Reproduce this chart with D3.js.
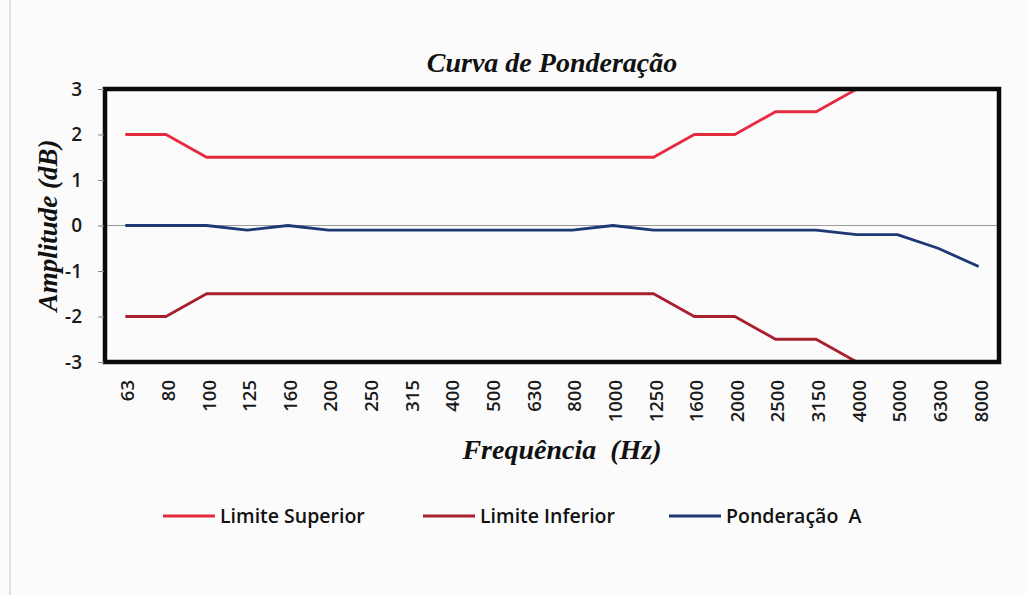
<!DOCTYPE html>
<html>
<head>
<meta charset="utf-8">
<script src="https://cdn.jsdelivr.net/npm/d3@7"></script>
<style>
  html, body { margin: 0; padding: 0; background: #fbfbfb; }
  svg { display: block; }
</style>
</head>
<body>
<svg id="chart" width="1027" height="595"></svg>
<script>
// Frequency bands (Hz) on the horizontal axis
const frequencies = ["63", "80", "100", "125", "160", "200", "250", "315", "400", "500", "630",
  "800", "1000", "1250", "1600", "2000", "2500", "3150", "4000", "5000", "6300", "8000"];
// Tolerance limits (dB), defined from 63 Hz up to 4000 Hz
const upperLimit = [2, 2, 1.5, 1.5, 1.5, 1.5, 1.5, 1.5, 1.5, 1.5, 1.5, 1.5, 1.5, 1.5, 2, 2, 2.5, 2.5, 3];
const lowerLimit = [-2, -2, -1.5, -1.5, -1.5, -1.5, -1.5, -1.5, -1.5, -1.5, -1.5, -1.5, -1.5, -1.5, -2, -2, -2.5, -2.5, -3];
// Measured A-weighting deviation (dB)
const weightingA = [0, 0, 0, -0.1, 0, -0.1, -0.1, -0.1, -0.1, -0.1, -0.1, -0.1, 0, -0.1, -0.1, -0.1, -0.1, -0.1, -0.2, -0.2, -0.5, -0.9];
const yTicks = [-3, -2, -1, 0, 1, 2, 3];

const seriesNames = ["Limite Superior", "Limite Inferior", "Ponderação  A"];
const seriesColors = ["#e62a3f", "#a8202d", "#1d3875"];
const series = [upperLimit, lowerLimit, weightingA].map((values, i) => ({
  name: seriesNames[i], color: seriesColors[i],
  points: values.map((v, j) => ({ f: frequencies[j], v }))
}));

const svg = d3.select("#chart");
const plot = { left: 105, right: 999, top: 89, bottom: 362 };

const x = d3.scalePoint().domain(frequencies).range([plot.left, plot.right]).padding(0.5);
const y = d3.scaleLinear().domain([-3, 3]).range([plot.bottom, plot.top]);

const serif = "'Liberation Serif', 'Times New Roman', serif";
const sans = "'Open Sans', sans-serif";

// faint page edge line
svg.append("line").attr("x1", 10).attr("x2", 10).attr("y1", 0).attr("y2", 595)
  .attr("stroke", "#c8c8c8").attr("stroke-width", 1);

// Title
svg.append("text")
  .attr("x", 552).attr("y", 72)
  .attr("text-anchor", "middle")
  .style("font-family", serif)
  .style("font-weight", "bold").style("font-style", "italic")
  .style("font-size", "28px").attr("fill", "#111")
  .text("Curva de Ponderação");

// Clip region for the series
svg.append("clipPath").attr("id", "plot-clip")
  .append("rect")
  .attr("x", plot.left).attr("y", plot.top)
  .attr("width", plot.right - plot.left).attr("height", plot.bottom - plot.top);

// Zero reference line
svg.append("line")
  .attr("x1", plot.left).attr("x2", plot.right)
  .attr("y1", y(0)).attr("y2", y(0))
  .attr("stroke", "#9a9a9a").attr("stroke-width", 1.2);

// Series lines
const line = d3.line().x(d => x(d.f)).y(d => y(d.v));
svg.append("g").attr("clip-path", "url(#plot-clip)")
  .selectAll("path").data(series).join("path")
  .attr("d", d => line(d.points))
  .attr("fill", "none")
  .attr("stroke", d => d.color)
  .attr("stroke-width", 2.8)
  .attr("stroke-linejoin", "round");

// Plot frame
svg.append("rect")
  .attr("x", plot.left).attr("y", plot.top)
  .attr("width", plot.right - plot.left).attr("height", plot.bottom - plot.top)
  .attr("fill", "none").attr("stroke", "#0a0a0a").attr("stroke-width", 4.5);

// Y axis
const yAxis = svg.append("g")
  .attr("transform", `translate(${plot.left - 1},0)`)
  .call(d3.axisLeft(y).tickValues(yTicks).tickFormat(d => String(d)).tickSize(6).tickPadding(16));
yAxis.select(".domain").remove();
yAxis.selectAll(".tick line").attr("stroke", "#888");
yAxis.selectAll("text")
  .style("font-family", sans)
  .style("font-size", "19px").style("font-weight", "600")
  .attr("fill", "#1a1a1a");

// X axis labels (rotated)
const xAxis = svg.append("g")
  .attr("transform", `translate(0,${plot.bottom})`)
  .call(d3.axisBottom(x).tickSize(0).tickPadding(0));
xAxis.select(".domain").remove();
xAxis.selectAll("text")
  .attr("transform", "rotate(-90)")
  .attr("x", -18).attr("y", 2).attr("dy", "0.35em")
  .attr("text-anchor", "end")
  .style("font-family", sans)
  .style("font-size", "18.5px").style("font-weight", "600")
  .attr("fill", "#1a1a1a");

// Axis titles
svg.append("text")
  .attr("transform", `translate(57,${(plot.top + plot.bottom) / 2}) rotate(-90)`)
  .attr("text-anchor", "middle")
  .style("font-family", serif)
  .style("font-weight", "bold").style("font-style", "italic")
  .style("font-size", "27px").attr("fill", "#111")
  .text("Amplitude (dB)");

svg.append("text")
  .attr("x", 562).attr("y", 459)
  .attr("text-anchor", "middle")
  .style("font-family", serif)
  .style("font-weight", "bold").style("font-style", "italic")
  .style("font-size", "28px").attr("fill", "#111")
  .attr("xml:space", "preserve")
  .text("Frequência  (Hz)");

// Legend
const legendX = [163, 423, 669];
const legend = svg.append("g").selectAll("g").data(series).join("g")
  .attr("transform", (d, i) => `translate(${legendX[i]},516)`);
legend.append("line")
  .attr("x1", 0).attr("x2", 52).attr("y1", 0).attr("y2", 0)
  .attr("stroke", d => d.color).attr("stroke-width", 3);
legend.append("text")
  .attr("x", 57).attr("y", 0).attr("dy", "0.35em")
  .attr("xml:space", "preserve")
  .style("font-family", sans)
  .style("font-size", "19.5px").style("font-weight", "600")
  .attr("fill", "#111")
  .text(d => d.name);
</script>
</body>
</html>
